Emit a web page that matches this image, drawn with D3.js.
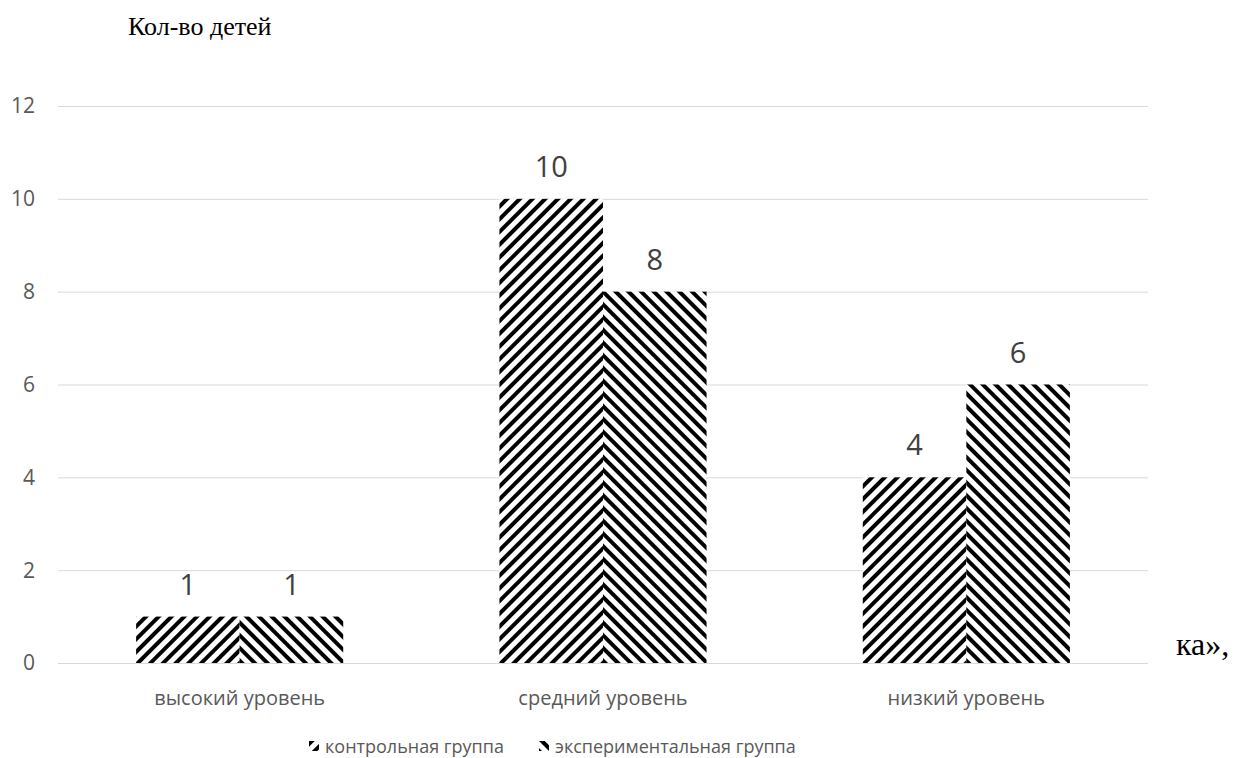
<!DOCTYPE html>
<html>
<head>
<meta charset="utf-8">
<script src="https://cdn.jsdelivr.net/npm/d3@7"></script>
<style>
  body { margin: 0; background: #fff; }
  svg { display: block; }
</style>
</head>
<body>
<div id="ChartArea"></div>
<script>
// ------------------------------------------------------------------
// data
const categories = ["высокий уровень", "средний уровень", "низкий уровень"];
const seriesNames = ["контрольная группа", "экспериментальная группа"];
const controlValues = [1, 10, 4];
const experimentalValues = [1, 8, 6];
const yTicks = [0, 2, 4, 6, 8, 10, 12];

// ------------------------------------------------------------------
const W = 1240, H = 758;
const plot = {left: 58, right: 1148, top: 106, bottom: 663};

const svg = d3.select("#ChartArea").append("svg")
    .attr("width", W)
    .attr("height", H);

// hatch patterns (/ and \)
const defs = svg.append("defs");
function hatch(id, angle) {
  const p = defs.append("pattern")
    .attr("id", id)
    .attr("patternUnits", "userSpaceOnUse")
    .attr("width", 9)
    .attr("height", 9)
    .attr("patternTransform", "rotate(" + angle + ")");
  p.append("rect").attr("width", 9).attr("height", 9).attr("fill", "#fff");
  p.append("rect").attr("x", 0).attr("width", 4).attr("height", 9).attr("fill", "#000");
}
hatch("hatchUp", 45);
hatch("hatchDown", -45);
const fills = ["url(#hatchUp)", "url(#hatchDown)"];

// scales
const y = d3.scaleLinear().domain([0, 12]).range([plot.bottom, plot.top]);
const x0 = d3.scaleBand().domain(categories)
    .range([plot.left, plot.right])
    .paddingInner(0.43)
    .paddingOuter(0.215);
const x1 = d3.scaleBand().domain([0, 1]).range([0, x0.bandwidth()]);

// gridlines
svg.append("g").selectAll("line")
  .data(yTicks)
  .enter().append("line")
  .attr("x1", plot.left).attr("x2", plot.right)
  .attr("y1", d => y(d) + 0.5).attr("y2", d => y(d) + 0.5)
  .attr("stroke", "#d9d9d9")
  .attr("stroke-width", 1);

// y axis labels
svg.append("g").selectAll("text")
  .data(yTicks)
  .enter().append("text")
  .attr("x", 35)
  .attr("y", d => y(d))
  .attr("dy", "0.35em")
  .attr("text-anchor", "end")
  .attr("font-family", "'Open Sans', sans-serif")
  .attr("font-size", 21)
  .attr("fill", "#595959")
  .text(d => d);

// bars
const rows = categories.map((c, i) => ({cat: c, vals: [controlValues[i], experimentalValues[i]]}));
const groups = svg.append("g").selectAll("g")
  .data(rows)
  .enter().append("g")
  .attr("transform", d => "translate(" + x0(d.cat) + ",0)");

groups.selectAll("rect")
  .data(d => d.vals.map((v, k) => ({k: k, v: v})))
  .enter().append("rect")
  .attr("x", d => x1(d.k))
  .attr("y", d => y(d.v))
  .attr("width", x1.bandwidth())
  .attr("height", d => y(0) - y(d.v))
  .attr("fill", d => fills[d.k]);

// value labels
groups.selectAll("text")
  .data(d => d.vals.map((v, k) => ({k: k, v: v})))
  .enter().append("text")
  .attr("x", d => x1(d.k) + x1.bandwidth() / 2)
  .attr("y", d => y(d.v) - 22)
  .attr("text-anchor", "middle")
  .attr("font-family", "'Open Sans', sans-serif")
  .attr("font-size", 29)
  .attr("fill", "#404040")
  .text(d => d.v);

// category labels
svg.append("g").selectAll("text")
  .data(categories)
  .enter().append("text")
  .attr("x", d => x0(d) + x0.bandwidth() / 2)
  .attr("y", 705)
  .attr("text-anchor", "middle")
  .attr("font-family", "'Open Sans', sans-serif")
  .attr("font-size", 20)
  .attr("fill", "#595959")
  .text(d => d);

// legend
const legendX = [309, 539];
const leg = svg.append("g").selectAll("g")
  .data(seriesNames)
  .enter().append("g")
  .attr("transform", (d, i) => "translate(" + legendX[i] + ",741)");
leg.append("rect")
  .attr("width", 10).attr("height", 10)
  .attr("fill", (d, i) => fills[i]);
leg.append("text")
  .attr("x", 16)
  .attr("y", 12)
  .attr("font-family", "'Open Sans', sans-serif")
  .attr("font-size", 18)
  .attr("fill", "#595959")
  .text(d => d);

// title and stray text
svg.append("text")
  .attr("x", 128).attr("y", 35)
  .attr("font-family", "'Liberation Serif', serif")
  .attr("font-size", 26)
  .attr("fill", "#000")
  .text("Кол-во детей");

svg.append("text")
  .attr("x", 1176).attr("y", 655)
  .attr("font-family", "'Liberation Serif', serif")
  .attr("font-size", 32)
  .attr("fill", "#000")
  .text("ка»,");
</script>
</body>
</html>
